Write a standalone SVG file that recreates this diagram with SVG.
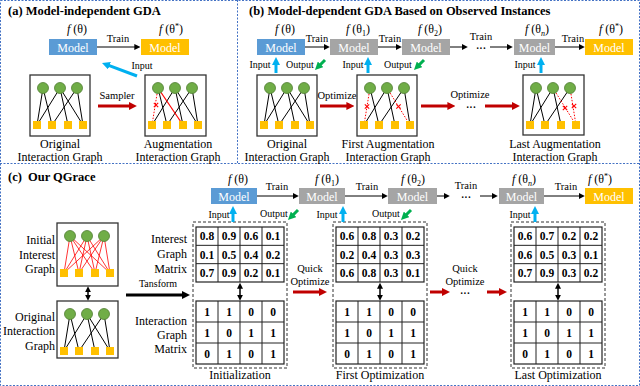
<svg xmlns="http://www.w3.org/2000/svg" width="640" height="386" viewBox="0 0 640 386">
<style>
text{font-family:"Liberation Serif","Times New Roman",serif;fill:#000}
.title{font-weight:bold;font-size:12.5px}
.lbl{font-size:12px;text-anchor:middle}
.rl{font-size:12px;text-anchor:end}
.sm{font-size:10.5px;text-anchor:middle}
.io{font-size:10px;text-anchor:middle}
.fx{font-size:12px;text-anchor:middle}
.mdl{font-size:12px;text-anchor:middle;fill:#fff}
.num{font-size:11.5px;font-weight:bold;text-anchor:middle}
.dots{font-size:10px;text-anchor:middle;font-weight:bold}
.mb{fill:#5B9BD5}
.mg{fill:#A5A5A5}
.my{fill:#FFC000}
.gf{fill:#fff;stroke:#333;stroke-width:1.3}
.eb line,.eb{stroke:#000;stroke-width:1}
.er line,.er{stroke:#FF0000;stroke-width:0.8}
.ed{stroke:#FF0000;stroke-width:1;stroke-dasharray:1.5 1.5}
.xm{stroke:#FF0000;stroke-width:1.1;fill:none}
.grid{fill:#fff;stroke:#222;stroke-width:1.2}
.gl{stroke:#222;stroke-width:1;fill:none}
.dbox{fill:none;stroke:#333;stroke-width:1;stroke-dasharray:3 2}
.panel{fill:none;stroke:#4472C4;stroke-width:1;stroke-dasharray:2 1.5}
.tk{stroke:#000;stroke-width:1;fill:none}
.tr{stroke:#C00000;stroke-width:3;fill:none}
.tb{stroke:#00B0F0;stroke-width:3;fill:none}
.tg{stroke:#00B050;stroke-width:3;fill:none}
.tt{stroke:#000;stroke-width:3;fill:none}
.td{stroke:#000;stroke-width:1.5;fill:none}
</style>
<defs>
<marker id="ak" viewBox="0 0 10 10" refX="2" refY="5" markerWidth="6" markerHeight="6" markerUnits="userSpaceOnUse" orient="auto"><path d="M0,0L10,5L0,10z" fill="#000"/></marker>
<marker id="ar" viewBox="0 0 10 10" refX="2" refY="5" markerWidth="8" markerHeight="8" markerUnits="userSpaceOnUse" orient="auto"><path d="M0,0L10,5L0,10z" fill="#C00000"/></marker>
<marker id="ab" viewBox="0 0 10 10" refX="2" refY="5" markerWidth="8" markerHeight="8" markerUnits="userSpaceOnUse" orient="auto"><path d="M0,0L10,5L0,10z" fill="#00B0F0"/></marker>
<marker id="ag" viewBox="0 0 10 10" refX="2" refY="5" markerWidth="8" markerHeight="8" markerUnits="userSpaceOnUse" orient="auto"><path d="M0,0L10,5L0,10z" fill="#00B050"/></marker>
<marker id="akt" viewBox="0 0 10 10" refX="2" refY="5" markerWidth="8" markerHeight="8" markerUnits="userSpaceOnUse" orient="auto"><path d="M0,0L10,5L0,10z" fill="#000"/></marker>
<marker id="ad" viewBox="0 0 10 10" refX="2" refY="5" markerWidth="6" markerHeight="6" markerUnits="userSpaceOnUse" orient="auto-start-reverse"><path d="M0,0L10,5L0,10z" fill="#000"/></marker>
<g id="gn">
<circle cx="13" cy="13" r="5.5" fill="#70AD47" stroke="#507E32" stroke-width="0.8"/>
<circle cx="30" cy="13" r="5.5" fill="#70AD47" stroke="#507E32" stroke-width="0.8"/>
<circle cx="47" cy="13" r="5.5" fill="#70AD47" stroke="#507E32" stroke-width="0.8"/>
<rect x="3" y="46" width="8" height="8" fill="#FFC000"/>
<rect x="18" y="46" width="8" height="8" fill="#FFC000"/>
<rect x="34" y="46" width="8" height="8" fill="#FFC000"/>
<rect x="49" y="46" width="8" height="8" fill="#FFC000"/>
</g>
<g id="e-orig" class="eb">
<line x1="13" y1="13" x2="7" y2="50"/>
<line x1="13" y1="13" x2="22" y2="50"/>
<line x1="30" y1="13" x2="7" y2="50"/>
<line x1="30" y1="13" x2="38" y2="50"/>
<line x1="30" y1="13" x2="53" y2="50"/>
<line x1="47" y1="13" x2="22" y2="50"/>
<line x1="47" y1="13" x2="53" y2="50"/>
</g>
<g id="e-full" class="er">
<line x1="13" y1="13" x2="7" y2="50"/><line x1="13" y1="13" x2="22" y2="50"/><line x1="13" y1="13" x2="38" y2="50"/><line x1="13" y1="13" x2="53" y2="50"/>
<line x1="30" y1="13" x2="7" y2="50"/><line x1="30" y1="13" x2="22" y2="50"/><line x1="30" y1="13" x2="38" y2="50"/><line x1="30" y1="13" x2="53" y2="50"/>
<line x1="47" y1="13" x2="7" y2="50"/><line x1="47" y1="13" x2="22" y2="50"/><line x1="47" y1="13" x2="38" y2="50"/><line x1="47" y1="13" x2="53" y2="50"/>
</g>
<path id="xmk" class="xm" d="M-2.2,-2.2L2.2,2.2M-2.2,2.2L2.2,-2.2"/>
</defs>

<rect width="640" height="386" fill="#fff"/>
<g id="panels">
<rect class="panel" x="0.5" y="0.5" width="639" height="385"/>
<line class="panel" x1="0" y1="163.5" x2="640" y2="163.5"/>
<line class="panel" x1="237.5" y1="0" x2="237.5" y2="163.5"/>
</g>

<g id="titles">
<text class="title" x="8" y="15">(a) Model-independent GDA</text>
<text class="title" x="249" y="15">(b) Model-dependent GDA Based on Observed Instances</text>
<text class="title" x="8" y="181">(c)<tspan x="28">Our QGrace</tspan></text>
</g>

<!-- ===== Panel (a) ===== -->
<g id="a-model0">
<text class="fx" x="77" y="33"><tspan font-style="italic">f</tspan> (θ)</text>
<rect class="mb" x="49" y="39" width="48" height="16"/>
<text class="mdl" x="73" y="51.5">Model</text>
</g>
<g id="a-modelstar">
<text class="fx" x="171" y="33"><tspan font-style="italic">f</tspan> (θ<tspan font-size="8" dy="-4">*</tspan><tspan dy="4">)</tspan></text>
<rect class="my" x="141" y="39" width="48" height="16"/>
<text class="mdl" x="165" y="51.5">Model</text>
</g>
<g id="a-orig" transform="translate(30,75)">
<rect class="gf" width="60" height="61"/>
<use href="#e-orig"/>
<use href="#gn"/>
</g>
<g id="a-aug" transform="translate(145,75)">
<rect class="gf" width="61" height="61"/>
<g class="eb">
<line x1="13" y1="13" x2="22" y2="50"/>
<line x1="30" y1="13" x2="7" y2="50"/>
<line x1="30" y1="13" x2="38" y2="50"/>
<line x1="30" y1="13" x2="53" y2="50"/>
<line x1="47" y1="13" x2="22" y2="50"/>
<line x1="47" y1="13" x2="53" y2="50"/>
</g>
<line class="ed" x1="13" y1="13" x2="7" y2="50"/>
<line stroke="#FF0000" stroke-width="1.2" x1="13" y1="13" x2="38" y2="50"/>
<use href="#xmk" x="11" y="30"/>
<use href="#gn"/>
</g>
<g id="a-labels">
<text class="lbl" x="60" y="148">Original</text>
<text class="lbl" x="60" y="161">Interaction Graph</text>
<text class="lbl" x="178" y="148">Augmentation</text>
<text class="lbl" x="178" y="161">Interaction Graph</text>
</g>

<!-- ===== Panel (b) ===== -->
<g id="b-model0">
<text class="fx" x="285" y="33"><tspan font-style="italic">f</tspan> (θ)</text>
<rect class="mb" x="257" y="39" width="48" height="16"/>
<text class="mdl" x="281" y="51.5">Model</text>
</g>
<g id="b-model1">
<text class="fx" x="358" y="33"><tspan font-style="italic">f</tspan> (θ<tspan font-size="8" dy="3">1</tspan><tspan dy="-3">)</tspan></text>
<rect class="mg" x="330" y="39" width="48" height="16"/>
<text class="mdl" x="354" y="51.5">Model</text>
</g>
<g id="b-model2">
<text class="fx" x="430" y="33"><tspan font-style="italic">f</tspan> (θ<tspan font-size="8" dy="3">2</tspan><tspan dy="-3">)</tspan></text>
<rect class="mg" x="402" y="39" width="48" height="16"/>
<text class="mdl" x="426" y="51.5">Model</text>
</g>
<g id="b-modeln">
<text class="fx" x="537" y="33"><tspan font-style="italic">f</tspan> (θ<tspan font-size="8" dy="3" font-style="italic">n</tspan><tspan dy="-3">)</tspan></text>
<rect class="mg" x="514" y="39" width="41" height="16"/>
<text class="mdl" x="534.5" y="51.5">Model</text>
</g>
<g id="b-modelstar">
<text class="fx" x="611" y="33"><tspan font-style="italic">f</tspan> (θ<tspan font-size="8" dy="-4">*</tspan><tspan dy="4">)</tspan></text>
<rect class="my" x="585" y="39" width="48" height="16"/>
<text class="mdl" x="609" y="51.5">Model</text>
</g>
<g id="b-orig" transform="translate(257,75)">
<rect class="gf" width="60" height="61"/>
<use href="#e-orig"/>
<use href="#gn"/>
</g>
<g id="b-first" transform="translate(357,75)">
<rect class="gf" width="60" height="61"/>
<g class="eb">
<line x1="13" y1="13" x2="22" y2="50"/>
<line x1="30" y1="13" x2="7" y2="50"/>
<line x1="30" y1="13" x2="38" y2="50"/>
<line x1="47" y1="13" x2="22" y2="50"/>
<line x1="47" y1="13" x2="53" y2="50"/>
</g>
<line class="ed" x1="13" y1="13" x2="7" y2="50"/>
<line class="ed" x1="30" y1="13" x2="53" y2="50"/>
<use href="#xmk" x="10" y="31.5"/>
<use href="#xmk" x="41.5" y="31.5"/>
<use href="#gn"/>
</g>
<g id="b-last" transform="translate(523,75)">
<rect class="gf" width="61" height="60"/>
<g class="eb">
<line x1="13" y1="13" x2="7" y2="50"/>
<line x1="13" y1="13" x2="22" y2="50"/>
<line x1="30" y1="13" x2="7" y2="50"/>
<line x1="30" y1="13" x2="38" y2="50"/>
<line x1="47" y1="13" x2="22" y2="50"/>
</g>
<line class="ed" x1="30" y1="13" x2="53" y2="50"/>
<line class="ed" x1="47" y1="13" x2="53" y2="50"/>
<use href="#xmk" x="42" y="33"/>
<use href="#xmk" x="51" y="31"/>
<use href="#gn"/>
</g>
<g id="b-labels">
<text class="lbl" x="287" y="148">Original</text>
<text class="lbl" x="287" y="161">Interaction Graph</text>
<text class="lbl" x="388" y="148">First Augmentation</text>
<text class="lbl" x="388" y="161">Interaction Graph</text>
<text class="lbl" x="555" y="148">Last Augmentation</text>
<text class="lbl" x="555" y="161">Interaction Graph</text>
</g>

<!-- ===== Panel (c) ===== -->
<g id="c-model0">
<text class="fx" x="238" y="183"><tspan font-style="italic">f</tspan> (θ)</text>
<rect class="mb" x="211" y="188" width="46" height="16"/>
<text class="mdl" x="234" y="200.5">Model</text>
</g>
<g id="c-model1">
<text class="fx" x="327" y="183"><tspan font-style="italic">f</tspan> (θ<tspan font-size="8" dy="3">1</tspan><tspan dy="-3">)</tspan></text>
<rect class="mg" x="299" y="188" width="46" height="16"/>
<text class="mdl" x="322" y="200.5">Model</text>
</g>
<g id="c-model2">
<text class="fx" x="413" y="183"><tspan font-style="italic">f</tspan> (θ<tspan font-size="8" dy="3">2</tspan><tspan dy="-3">)</tspan></text>
<rect class="mg" x="388" y="188" width="49" height="16"/>
<text class="mdl" x="412.5" y="200.5">Model</text>
</g>
<g id="c-modeln">
<text class="fx" x="524" y="183"><tspan font-style="italic">f</tspan> (θ<tspan font-size="8" dy="3" font-style="italic">n</tspan><tspan dy="-3">)</tspan></text>
<rect class="mg" x="499" y="188" width="45" height="16"/>
<text class="mdl" x="521.5" y="200.5">Model</text>
</g>
<g id="c-modelstar">
<text class="fx" x="600" y="183"><tspan font-style="italic">f</tspan> (θ<tspan font-size="8" dy="-4">*</tspan><tspan dy="4">)</tspan></text>
<rect class="my" x="585" y="188" width="48" height="16"/>
<text class="mdl" x="609" y="200.5">Model</text>
</g>

<g id="c-interest-graph" transform="translate(57,223)">
<rect class="gf" width="61" height="63"/>
<use href="#e-full"/>
<use href="#gn"/>
</g>
<g id="c-orig-graph" transform="translate(57,301)">
<rect class="gf" width="61" height="57"/>
<use href="#e-orig"/>
<use href="#gn"/>
</g>
<g id="c-graph-labels">
<text class="rl" x="55" y="244">Initial</text>
<text class="rl" x="55" y="259">Interest</text>
<text class="rl" x="55" y="273">Graph</text>
<text class="rl" x="55" y="321">Original</text>
<text class="rl" x="55" y="335">Interaction</text>
<text class="rl" x="55" y="350">Graph</text>
<text class="rl" x="187" y="243">Interest</text>
<text class="rl" x="187" y="258">Graph</text>
<text class="rl" x="187" y="273">Matrix</text>
<text class="rl" x="187" y="325">Interaction</text>
<text class="rl" x="187" y="339">Graph</text>
<text class="rl" x="187" y="353">Matrix</text>
</g>

<g id="c-init">
<rect class="dbox" x="193" y="222" width="94" height="146"/>
<rect class="grid" x="196" y="227" width="88" height="55"/>
<path class="gl" d="M218,227V282M240,227V282M262,227V282M196,245.33H284M196,263.67H284"/>
<rect class="grid" x="196" y="301" width="88" height="63"/>
<path class="gl" d="M218,301V364M240,301V364M262,301V364M196,322H284M196,343H284"/>
<text class="num" x="207" y="240.2">0.8</text><text class="num" x="229" y="240.2">0.9</text><text class="num" x="251" y="240.2">0.6</text><text class="num" x="273" y="240.2">0.1</text>
<text class="num" x="207" y="258.5">0.1</text><text class="num" x="229" y="258.5">0.5</text><text class="num" x="251" y="258.5">0.4</text><text class="num" x="273" y="258.5">0.2</text>
<text class="num" x="207" y="276.8">0.7</text><text class="num" x="229" y="276.8">0.9</text><text class="num" x="251" y="276.8">0.2</text><text class="num" x="273" y="276.8">0.1</text>
<text class="num" x="207" y="315.5">1</text><text class="num" x="229" y="315.5">1</text><text class="num" x="251" y="315.5">0</text><text class="num" x="273" y="315.5">0</text>
<text class="num" x="207" y="336.5">1</text><text class="num" x="229" y="336.5">0</text><text class="num" x="251" y="336.5">1</text><text class="num" x="273" y="336.5">1</text>
<text class="num" x="207" y="357.5">0</text><text class="num" x="229" y="357.5">1</text><text class="num" x="251" y="357.5">0</text><text class="num" x="273" y="357.5">1</text>
<text class="lbl" x="240" y="379">Initialization</text>
</g>

<g id="c-first" transform="translate(140,0)">
<rect class="dbox" x="193" y="222" width="94" height="146"/>
<rect class="grid" x="196" y="227" width="88" height="55"/>
<path class="gl" d="M218,227V282M240,227V282M262,227V282M196,245.33H284M196,263.67H284"/>
<rect class="grid" x="196" y="301" width="88" height="63"/>
<path class="gl" d="M218,301V364M240,301V364M262,301V364M196,322H284M196,343H284"/>
<text class="num" x="207" y="240.2">0.6</text><text class="num" x="229" y="240.2">0.8</text><text class="num" x="251" y="240.2">0.3</text><text class="num" x="273" y="240.2">0.2</text>
<text class="num" x="207" y="258.5">0.2</text><text class="num" x="229" y="258.5">0.4</text><text class="num" x="251" y="258.5">0.3</text><text class="num" x="273" y="258.5">0.3</text>
<text class="num" x="207" y="276.8">0.6</text><text class="num" x="229" y="276.8">0.8</text><text class="num" x="251" y="276.8">0.3</text><text class="num" x="273" y="276.8">0.1</text>
<text class="num" x="207" y="315.5">1</text><text class="num" x="229" y="315.5">1</text><text class="num" x="251" y="315.5">0</text><text class="num" x="273" y="315.5">0</text>
<text class="num" x="207" y="336.5">1</text><text class="num" x="229" y="336.5">0</text><text class="num" x="251" y="336.5">1</text><text class="num" x="273" y="336.5">1</text>
<text class="num" x="207" y="357.5">0</text><text class="num" x="229" y="357.5">1</text><text class="num" x="251" y="357.5">0</text><text class="num" x="273" y="357.5">1</text>
<text class="lbl" x="240" y="379">First Optimization</text>
</g>

<g id="c-last" transform="translate(318,0)">
<rect class="dbox" x="193" y="222" width="94" height="146"/>
<rect class="grid" x="196" y="227" width="88" height="55"/>
<path class="gl" d="M218,227V282M240,227V282M262,227V282M196,245.33H284M196,263.67H284"/>
<rect class="grid" x="196" y="301" width="88" height="63"/>
<path class="gl" d="M218,301V364M240,301V364M262,301V364M196,322H284M196,343H284"/>
<text class="num" x="207" y="240.2">0.6</text><text class="num" x="229" y="240.2">0.7</text><text class="num" x="251" y="240.2">0.2</text><text class="num" x="273" y="240.2">0.2</text>
<text class="num" x="207" y="258.5">0.6</text><text class="num" x="229" y="258.5">0.5</text><text class="num" x="251" y="258.5">0.3</text><text class="num" x="273" y="258.5">0.1</text>
<text class="num" x="207" y="276.8">0.7</text><text class="num" x="229" y="276.8">0.9</text><text class="num" x="251" y="276.8">0.3</text><text class="num" x="273" y="276.8">0.2</text>
<text class="num" x="207" y="315.5">1</text><text class="num" x="229" y="315.5">1</text><text class="num" x="251" y="315.5">0</text><text class="num" x="273" y="315.5">0</text>
<text class="num" x="207" y="336.5">1</text><text class="num" x="229" y="336.5">0</text><text class="num" x="251" y="336.5">1</text><text class="num" x="273" y="336.5">1</text>
<text class="num" x="207" y="357.5">0</text><text class="num" x="229" y="357.5">1</text><text class="num" x="251" y="357.5">0</text><text class="num" x="273" y="357.5">1</text>
<text class="lbl" x="240" y="379">Last Optimization</text>
</g>

<!-- ===== Connectors ===== -->
<g id="connectors">
<!-- (a) -->
<line class="tk" x1="97" y1="47" x2="135.5" y2="47" marker-end="url(#ak)"/>
<text class="sm" x="118" y="42">Train</text>
<line class="tb" x1="137" y1="76" x2="108" y2="65.2" marker-end="url(#ab)"/>
<text class="io" x="142" y="69">Input</text>
<line class="tr" x1="98" y1="106" x2="130.5" y2="106" marker-end="url(#ar)"/>
<text class="sm" x="117" y="99" font-size="11">Sampler</text>
<!-- (b) train chain -->
<line class="tk" x1="305" y1="47" x2="325" y2="47" marker-end="url(#ak)"/>
<text class="sm" x="317" y="42">Train</text>
<line class="tk" x1="378" y1="47" x2="397" y2="47" marker-end="url(#ak)"/>
<text class="sm" x="390" y="42">Train</text>
<line class="tk" x1="450" y1="47" x2="463" y2="47" marker-end="url(#ak)"/>
<text class="sm" x="481" y="40">Train</text>
<text class="dots" x="481" y="52">···</text>
<line class="tk" x1="490" y1="47" x2="508" y2="47" marker-end="url(#ak)"/>
<line class="tk" x1="555" y1="47" x2="580" y2="47" marker-end="url(#ak)"/>
<text class="sm" x="573" y="42">Train</text>
<!-- (b) input/output -->
<line class="tb" x1="276" y1="73" x2="276" y2="63.4" marker-end="url(#ab)"/>
<text class="io" x="260" y="68">Input</text>
<line class="tg" x1="325" y1="60" x2="319.5" y2="65.5" marker-end="url(#ag)"/>
<text class="io" x="300" y="68">Output</text>
<line class="tb" x1="368" y1="73" x2="368" y2="63.4" marker-end="url(#ab)"/>
<text class="io" x="353" y="68">Input</text>
<line class="tg" x1="424" y1="60" x2="418.5" y2="65.5" marker-end="url(#ag)"/>
<text class="io" x="398" y="68">Output</text>
<line class="tb" x1="541" y1="73" x2="541" y2="63.4" marker-end="url(#ab)"/>
<text class="io" x="525" y="68">Input</text>
<!-- (b) optimize -->
<line class="tr" x1="320" y1="106" x2="348" y2="106" marker-end="url(#ar)"/>
<text class="sm" x="337" y="99">Optimize</text>
<line class="tr" x1="421" y1="106" x2="449" y2="106" marker-end="url(#ar)"/>
<text class="sm" x="470" y="98">Optimize</text>
<text class="dots" x="471" y="111">···</text>
<line class="tr" x1="485" y1="106" x2="513.5" y2="106" marker-end="url(#ar)"/>
<!-- (c) train chain -->
<line class="tk" x1="257" y1="196" x2="294" y2="196" marker-end="url(#ak)"/>
<text class="sm" x="277" y="190">Train</text>
<line class="tk" x1="345" y1="196" x2="383" y2="196" marker-end="url(#ak)"/>
<text class="sm" x="367" y="190">Train</text>
<line class="tk" x1="437" y1="196" x2="445" y2="196" marker-end="url(#ak)"/>
<text class="sm" x="466" y="189">Train</text>
<text class="dots" x="466" y="201">···</text>
<line class="tk" x1="480" y1="196" x2="493" y2="196" marker-end="url(#ak)"/>
<line class="tk" x1="544" y1="196" x2="580" y2="196" marker-end="url(#ak)"/>
<text class="sm" x="566" y="190">Train</text>
<!-- (c) input/output -->
<line class="tb" x1="233" y1="222" x2="233" y2="212.4" marker-end="url(#ab)"/>
<text class="io" x="219" y="218">Input</text>
<line class="tg" x1="298" y1="210" x2="292.5" y2="215.5" marker-end="url(#ag)"/>
<text class="io" x="274" y="217">Output</text>
<line class="tb" x1="343" y1="222" x2="343" y2="212.4" marker-end="url(#ab)"/>
<text class="io" x="327" y="218">Input</text>
<line class="tg" x1="411" y1="210" x2="405.5" y2="215.5" marker-end="url(#ag)"/>
<text class="io" x="386" y="217">Output</text>
<line class="tb" x1="535" y1="222" x2="535" y2="212.4" marker-end="url(#ab)"/>
<text class="io" x="520" y="218">Input</text>
<!-- (c) double arrows -->
<line class="td" x1="88" y1="291" x2="88" y2="296" marker-start="url(#ad)" marker-end="url(#ad)"/>
<line class="td" x1="240" y1="287.5" x2="240" y2="296" marker-start="url(#ad)" marker-end="url(#ad)"/>
<line class="td" x1="380" y1="287.5" x2="380" y2="296" marker-start="url(#ad)" marker-end="url(#ad)"/>
<line class="td" x1="558" y1="287.5" x2="558" y2="296" marker-start="url(#ad)" marker-end="url(#ad)"/>
<!-- (c) transform -->
<line class="tt" x1="126" y1="295" x2="183.6" y2="295" marker-end="url(#akt)"/>
<text class="io" x="158" y="287">Tansform</text>
<!-- (c) quick optimize -->
<line class="tr" x1="293" y1="292" x2="320.6" y2="292" marker-end="url(#ar)"/>
<text class="sm" x="310" y="272">Quick</text>
<text class="sm" x="310" y="285">Optimize</text>
<line class="tr" x1="430" y1="292" x2="443.6" y2="292" marker-end="url(#ar)"/>
<text class="sm" x="465" y="272">Quick</text>
<text class="sm" x="465" y="285">Optimize</text>
<text class="dots" x="465" y="297">···</text>
<line class="tr" x1="487" y1="292" x2="500.6" y2="292" marker-end="url(#ar)"/>
</g>
</svg>
